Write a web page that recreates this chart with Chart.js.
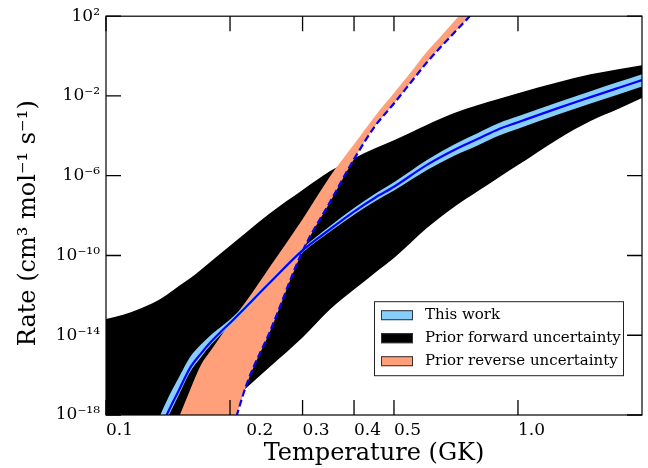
<!DOCTYPE html>
<html lang="en">
<head>
  <meta charset="UTF-8">
  <title>Rate vs temperature</title>
  <style>
    body { margin: 0; background: #fff; }
    #wrap { width: 648px; height: 468px; }
  </style>
</head>
<body>
  <div id="wrap"><canvas id="rateChart" width="648" height="468"></canvas></div>

  <script src="https://cdn.jsdelivr.net/npm/chart.js"></script>
  <script>
    // temperatures (GK) and rates (cm^3 mol^-1 s^-1)
    const fwdT  = [0.1, 0.11, 0.12, 0.13, 0.14, 0.15, 0.16, 0.17, 0.18, 0.19, 0.2, 0.22, 0.25, 0.3, 0.35, 0.4, 0.45, 0.5, 0.6, 0.7, 0.8, 0.9, 1.0, 1.25, 1.5, 1.75, 2.0];
    const fwdHi = [6.5e-14, 1.07e-13, 2.0e-13, 4.1e-13, 1.02e-12, 2.9e-12, 7.2e-12, 1.95e-11, 5.2e-11, 1.3e-10, 3.1e-10, 1.55e-9, 1.3e-8, 1.9e-7, 1.7e-6, 7.6e-6, 2.4e-5, 6.0e-5, 3.5e-4, 1.38e-3, 3.5e-3, 7.2e-3, 1.38e-2, 4.9e-2, 0.123, 0.22, 0.35];
    const fwdLo = [1e-23, 5e-23, 2.5e-22, 1e-21, 4e-21, 1.5e-20, 5e-20, 1.6e-19, 6.3e-19, 1.8e-18, 4.5e-18, 2.5e-17, 2.6e-16, 7.6e-15, 2.0e-13, 1.95e-12, 1.38e-11, 7.4e-11, 2.3e-9, 2.7e-8, 1.7e-7, 8.5e-7, 3.4e-6, 6.8e-5, 5.5e-4, 2.2e-3, 7.8e-3];

    const revT  = [0.14, 0.15, 0.16, 0.17, 0.18, 0.19, 0.2, 0.22, 0.25, 0.3, 0.35, 0.4, 0.45, 0.5, 0.55, 0.6, 0.65, 0.7, 0.75, 0.8];
    const revHi = [2.2e-20, 7e-19, 1.8e-17, 3.2e-16, 1.8e-15, 9.1e-15, 4.1e-14, 5.8e-13, 2.75e-11, 6.6e-9, 9.5e-7, 3.8e-5, 1.0e-3, 1.4e-2, 0.16, 1.6, 10, 56, 250, 1000];
    const revLo = [1e-28, 3e-27, 1e-25, 3e-24, 1e-22, 2.5e-21, 7.1e-20, 4e-17, 1.55e-14, 1.66e-10, 4.9e-8, 6.8e-6, 3.1e-4, 4.2e-3, 4.9e-2, 0.46, 2.9, 14.8, 66, 290];

    const thisT   = [0.13, 0.14, 0.15, 0.16, 0.17, 0.18, 0.19, 0.2, 0.25, 0.3, 0.35, 0.4, 0.45, 0.5, 0.6, 0.7, 0.8, 0.9, 1.0, 1.25, 1.5, 1.75, 2.0];
    const thisMid = [2.8e-20, 8.9e-19, 1.6e-17, 2.3e-16, 1.2e-15, 4.8e-15, 1.5e-14, 4.1e-14, 4.4e-12, 1.8e-10, 2.1e-9, 1.6e-8, 7.9e-8, 2.8e-7, 3.4e-6, 1.95e-5, 7.1e-5, 2.2e-4, 4.8e-4, 2.45e-3, 8.7e-3, 2.5e-2, 6.2e-2];
    const thisHi  = [1.4e-19, 4.5e-18, 7.1e-17, 8.1e-16, 3.4e-15, 1.07e-14, 2.6e-14, 6.2e-14, 5.8e-12, 2.3e-10, 3.0e-9, 2.4e-8, 1.26e-7, 4.7e-7, 6.0e-6, 3.7e-5, 1.4e-4, 4.4e-4, 9.5e-4, 4.9e-3, 1.74e-2, 5.0e-2, 0.123];
    const thisLo  = [1.6e-20, 5.0e-19, 9.5e-18, 1.45e-16, 7.9e-16, 3.4e-15, 1.1e-14, 3.1e-14, 3.5e-12, 1.4e-10, 1.6e-9, 1.1e-8, 5.2e-8, 1.8e-7, 1.9e-6, 1.0e-5, 3.4e-5, 1.05e-4, 2.3e-4, 1.17e-3, 4.2e-3, 1.2e-2, 3.0e-2];

    const xTicks = [0.1, 0.2, 0.3, 0.4, 0.5, 1.0];
    const xTickLabels = ['0.1', '\u2007 0.2', '0.3', '0.4', '0.5', '1.0'];
    const yTicks = [1e-18, 1e-14, 1e-10, 1e-6, 1e-2, 1e2];
    const yTickLabels = ['10⁻¹⁸', '10⁻¹⁴', '10⁻¹⁰', '10⁻⁶', '10⁻²', '10²'];

    const legendLabels = ['This work', 'Prior forward uncertainty', 'Prior reverse uncertainty'];

    const BLUE = '#0000ff';
    const LIGHTBLUE = '#87cefa';
    const SALMON = '#ffa07a';
    const SERIF = "'DejaVu Serif', serif";

    function pts(xs, ys) {
      return xs.map((x, i) => ({ x: x, y: ys[i] }));
    }

    const none = 'rgba(0,0,0,0)';

    // inward ticks on all four sides + frame
    const frame = {
      id: 'frame',
      afterDatasetsDraw(chart) {
        const { ctx, chartArea: a, scales: { x, y } } = chart;
        const len = 15;
        ctx.save();
        ctx.strokeStyle = '#000';
        ctx.lineWidth = 1.3;
        ctx.beginPath();
        xTicks.forEach(v => {
          const px = x.getPixelForValue(v);
          ctx.moveTo(px, a.bottom); ctx.lineTo(px, a.bottom - len);
          ctx.moveTo(px, a.top); ctx.lineTo(px, a.top + len);
        });
        yTicks.forEach(v => {
          const py = y.getPixelForValue(v);
          ctx.moveTo(a.left, py); ctx.lineTo(a.left + len, py);
          ctx.moveTo(a.right, py); ctx.lineTo(a.right - len, py);
        });
        ctx.stroke();
        ctx.lineWidth = 1.2;
        ctx.strokeRect(a.left, a.top, a.right - a.left, a.bottom - a.top);
        ctx.restore();
      }
    };

    // legend box inside the plot, lower right
    const legendBox = {
      id: 'legendBox',
      afterDraw(chart) {
        const { ctx, chartArea: a } = chart;
        const bx = a.right - 268, by = a.top + 285, bw = 249, bh = 74;
        const fills = [LIGHTBLUE, '#000', SALMON];
        ctx.save();
        ctx.fillStyle = '#fff';
        ctx.fillRect(bx, by, bw, bh);
        ctx.strokeStyle = '#222';
        ctx.lineWidth = 1;
        ctx.strokeRect(bx + 0.5, by + 0.5, bw, bh);
        ctx.font = '15px ' + SERIF;
        ctx.textBaseline = 'middle';
        legendLabels.forEach((lab, i) => {
          const cy = by + 14 + i * 23;
          ctx.fillStyle = fills[i];
          ctx.fillRect(bx + 7, cy - 5, 32, 10);
          ctx.strokeStyle = '#333';
          ctx.strokeRect(bx + 7.5, cy - 4.5, 31, 9);
          ctx.fillStyle = '#000';
          ctx.fillText(lab, bx + 51, cy);
        });
        ctx.restore();
      }
    };

    const ctx = document.getElementById('rateChart').getContext('2d');
    new Chart(ctx, {
      type: 'line',
      data: {
        datasets: [
          { label: 'Reverse (dashed)', data: pts(revT, revLo), borderColor: BLUE, borderWidth: 2.2, borderDash: [7, 3.5], fill: false },
          { label: 'This work', data: pts(thisT, thisMid), borderColor: BLUE, borderWidth: 2.2, fill: false },
          { label: 'This work high', data: pts(thisT, thisHi), borderColor: none, borderWidth: 0, backgroundColor: LIGHTBLUE, fill: '+1' },
          { label: 'This work low', data: pts(thisT, thisLo), borderColor: none, borderWidth: 0, fill: false },
          { label: 'Prior reverse high', data: pts(revT, revHi), borderColor: none, borderWidth: 0, backgroundColor: SALMON, fill: '+1' },
          { label: 'Prior reverse low', data: pts(revT, revLo), borderColor: none, borderWidth: 0, fill: false },
          { label: 'Prior forward high', data: pts(fwdT, fwdHi), borderColor: none, borderWidth: 0, backgroundColor: '#000', fill: '+1' },
          { label: 'Prior forward low', data: pts(fwdT, fwdLo), borderColor: none, borderWidth: 0, fill: false }
        ]
      },
      options: {
        responsive: false,
        animation: false,
        devicePixelRatio: 1,
        layout: { padding: { top: 16, right: 6, left: 0, bottom: 0 } },
        elements: {
          point: { radius: 0, hoverRadius: 0 },
          line: { cubicInterpolationMode: 'monotone' }
        },
        plugins: {
          legend: { display: false },
          tooltip: { enabled: false }
        },
        scales: {
          x: {
            type: 'logarithmic',
            min: 0.1,
            max: 2.0,
            afterBuildTicks: s => { s.ticks = xTicks.map(v => ({ value: v })); },
            afterFit: s => { s.height = 53; },
            grid: { display: false, drawTicks: false },
            border: { display: false },
            ticks: {
              autoSkip: false,
              maxRotation: 0,
              align: 'start',
              padding: 5,
              color: '#000',
              font: { family: SERIF, size: 17 },
              callback: v => xTickLabels[xTicks.indexOf(v)]
            },
            title: {
              display: true,
              text: 'Temperature (GK)',
              color: '#000',
              font: { family: SERIF, size: 24 },
              padding: { top: 0, bottom: 0 }
            }
          },
          y: {
            type: 'logarithmic',
            min: 1e-18,
            max: 1e2,
            afterBuildTicks: s => { s.ticks = yTicks.map(v => ({ value: v })); },
            afterFit: s => { s.width = 106; },
            grid: { display: false, drawTicks: false },
            border: { display: false },
            ticks: {
              autoSkip: false,
              padding: 6,
              color: '#000',
              font: { family: SERIF, size: 17 },
              callback: v => yTickLabels[yTicks.indexOf(v)]
            },
            title: {
              display: true,
              text: 'Rate (cm³ mol⁻¹ s⁻¹)\u00a0\u00a0',
              color: '#000',
              font: { family: SERIF, size: 24 },
              padding: { top: 14, bottom: 0 }
            }
          }
        }
      },
      plugins: [frame, legendBox]
    });
  </script>
</body>
</html>
